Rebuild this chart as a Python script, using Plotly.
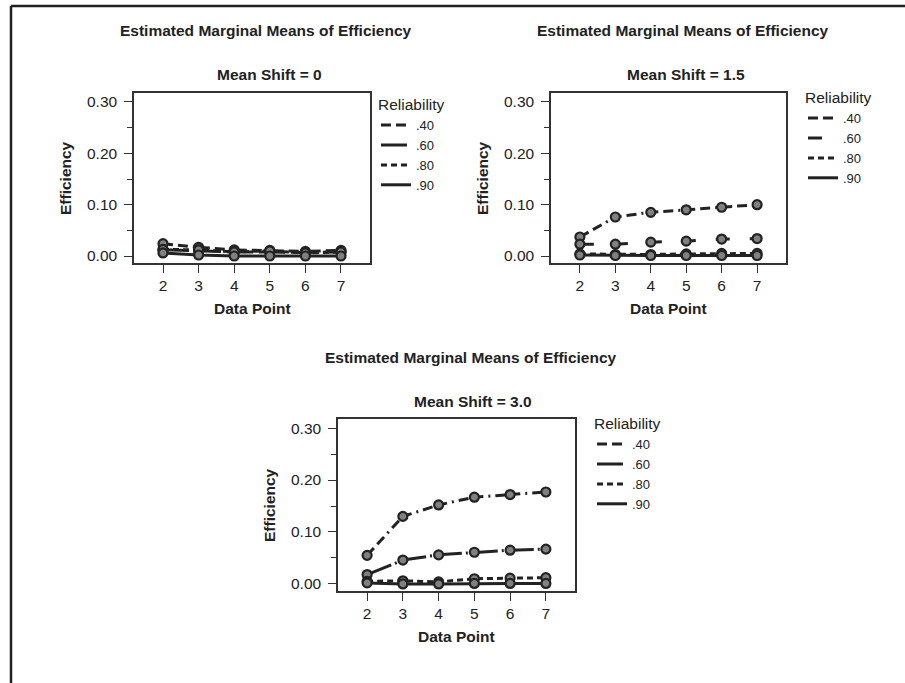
import plotly.graph_objects as go

W, H = 905, 683

data_points = [2, 3, 4, 5, 6, 7]
reliability_labels = [".40", ".60", ".80", ".90"]
y_tick_vals = [0.0, 0.10, 0.20, 0.30]

# Mean Shift = 0
shift0_r40 = [0.024, 0.017, 0.012, 0.011, 0.009, 0.011]
shift0_r60 = [0.012, 0.010, 0.008, 0.008, 0.007, 0.008]
shift0_r80 = [0.013, 0.012, 0.008, 0.010, 0.006, 0.008]
shift0_r90 = [0.006, 0.002, 0.000, 0.000, 0.000, 0.000]

# Mean Shift = 1.5
shift15_r40 = [0.037, 0.076, 0.085, 0.090, 0.095, 0.100]
shift15_r60 = [0.023, 0.023, 0.027, 0.029, 0.033, 0.034]
shift15_r80 = [0.004, 0.003, 0.003, 0.004, 0.005, 0.005]
shift15_r90 = [0.002, 0.001, 0.001, 0.001, 0.001, 0.001]

# Mean Shift = 3.0
shift30_r40 = [0.055, 0.130, 0.152, 0.167, 0.172, 0.177]
shift30_r60 = [0.018, 0.046, 0.056, 0.061, 0.065, 0.067]
shift30_r80 = [0.005, 0.006, 0.004, 0.010, 0.011, 0.012]
shift30_r90 = [0.002, 0.000, 0.000, 0.001, 0.001, 0.001]

panels = [
    dict(title="Mean Shift = 0", series=[shift0_r40, shift0_r60, shift0_r80, shift0_r90],
         dashes=["10px,5px,10px,5px,2px,5px", "26px,6px", "6px,4px", "solid"]),
    dict(title="Mean Shift = 1.5", series=[shift15_r40, shift15_r60, shift15_r80, shift15_r90],
         dashes=["10px,5px,10px,5px,2px,5px", "14px,20px", "6px,4px", "solid"]),
    dict(title="Mean Shift = 3.0", series=[shift30_r40, shift30_r60, shift30_r80, shift30_r90],
         dashes=["10px,5px,10px,5px,2px,5px", "26px,4px,2px,4px", "6px,4px", "solid"]),
]

FONT = "Liberation Sans, Arial, Helvetica, sans-serif"
INK = "#222222"
AX = "#333333"
FS = 15.5

# pixel boxes (left, right, top, bottom)
boxes = [(134, 370, 93, 263), (551, 786, 93, 263), (338, 575, 419, 591)]
# legend top-left positions in pixels
legend_pos = [(376, 90), (803, 83), (592, 409)]

def px(xp):
    return xp / W

def py(yp):
    return 1 - yp / H

fig = go.Figure()

for i, (p, box, lp) in enumerate(zip(panels, boxes, legend_pos)):
    sfx = "" if i == 0 else str(i + 1)
    xa, ya = "x" + sfx, "y" + sfx
    leg = "legend" + sfx
    for lab, vals, dash in zip(reliability_labels, p["series"], p["dashes"]):
        fig.add_trace(go.Scatter(
            x=data_points, y=vals, mode="lines+markers", xaxis=xa, yaxis=ya,
            line=dict(color=INK, width=3, dash=dash),
            marker=dict(size=9, color="#808080", line=dict(color=INK, width=2.2)),
            showlegend=False, hoverinfo="x+y", name=lab))
    for lab, dash in zip(reliability_labels, p["dashes"]):
        fig.add_trace(go.Scatter(
            x=[None], y=[None], mode="lines", xaxis=xa, yaxis=ya,
            line=dict(color=INK, width=3, dash=dash),
            name=lab, legend=leg, showlegend=True))

    l, r, t, b = box
    xaxis = dict(domain=[px(l), px(r)], range=[1.185, 7.815], tickmode="array",
                 tickvals=data_points, ticks="outside", ticklen=8, tickwidth=1.3,
                 tickcolor=AX, showline=True, mirror=True, linecolor=AX, linewidth=1.5,
                 showgrid=False, zeroline=False, anchor=ya,
                 tickfont=dict(family=FONT, size=FS, color=INK), fixedrange=True)
    yaxis = dict(domain=[py(b), py(t)], range=[-0.0136, 0.3175], tickmode="array",
                 tickvals=y_tick_vals, tickformat=".2f", ticks="outside", ticklen=8,
                 tickwidth=1.3, tickcolor=AX, showline=True, mirror=True, linecolor=AX,
                 linewidth=1.5, showgrid=False, zeroline=False, anchor=xa,
                 ticklabelstandoff=4,
                 minor=dict(tickvals=[0.05, 0.15, 0.25], ticks="outside", ticklen=5,
                            tickwidth=1.3, tickcolor=AX, showgrid=False),
                 tickfont=dict(family=FONT, size=FS, color=INK), fixedrange=True)
    fig.update_layout(**{"xaxis" + sfx: xaxis, "yaxis" + sfx: yaxis})

    cx = (l + r) / 2
    fig.add_annotation(x=px(cx + 14), y=py(t - 62), xref="paper", yref="paper",
                       text="<b>Estimated Marginal Means of Efficiency</b>", showarrow=False,
                       font=dict(family=FONT, size=FS, color=INK), xanchor="center", yanchor="middle")
    fig.add_annotation(x=px(cx + 17), y=py(t - 18), xref="paper", yref="paper",
                       text="<b>" + p["title"] + "</b>", showarrow=False,
                       font=dict(family=FONT, size=FS, color=INK), xanchor="center", yanchor="middle")
    fig.add_annotation(x=px(cx), y=py(b + 45), xref="paper", yref="paper",
                       text="<b>Data Point</b>", showarrow=False,
                       font=dict(family=FONT, size=FS, color=INK), xanchor="center", yanchor="middle")
    fig.add_annotation(x=px(l - 69), y=py((t + b) / 2), xref="paper", yref="paper",
                       text="<b>Efficiency</b>", showarrow=False, textangle=-90,
                       font=dict(family=FONT, size=FS, color=INK), xanchor="center", yanchor="middle")

    fig.update_layout(**{leg: dict(
        x=px(lp[0]), y=py(lp[1]), xanchor="left", yanchor="top",
        bgcolor="rgba(0,0,0,0)", borderwidth=0, tracegroupgap=0,
        title=dict(text="Reliability", font=dict(family=FONT, size=FS, color=INK)),
        font=dict(family=FONT, size=13, color=INK))})

# outer frame (left and top edges)
fig.add_shape(type="line", xref="paper", yref="paper", x0=px(11), x1=1.0, y0=py(6), y1=py(6),
              line=dict(color=INK, width=2.5))
fig.add_shape(type="line", xref="paper", yref="paper", x0=px(11), x1=px(11), y0=py(6), y1=0.0,
              line=dict(color=INK, width=2.5))

fig.update_layout(width=W, height=H, margin=dict(l=0, r=0, t=0, b=0),
                  paper_bgcolor="white", plot_bgcolor="white",
                  font=dict(family=FONT, color=INK))

fig.write_html("out.html", config={"displayModeBar": False},
               post_script="document.body.style.margin='0';")
